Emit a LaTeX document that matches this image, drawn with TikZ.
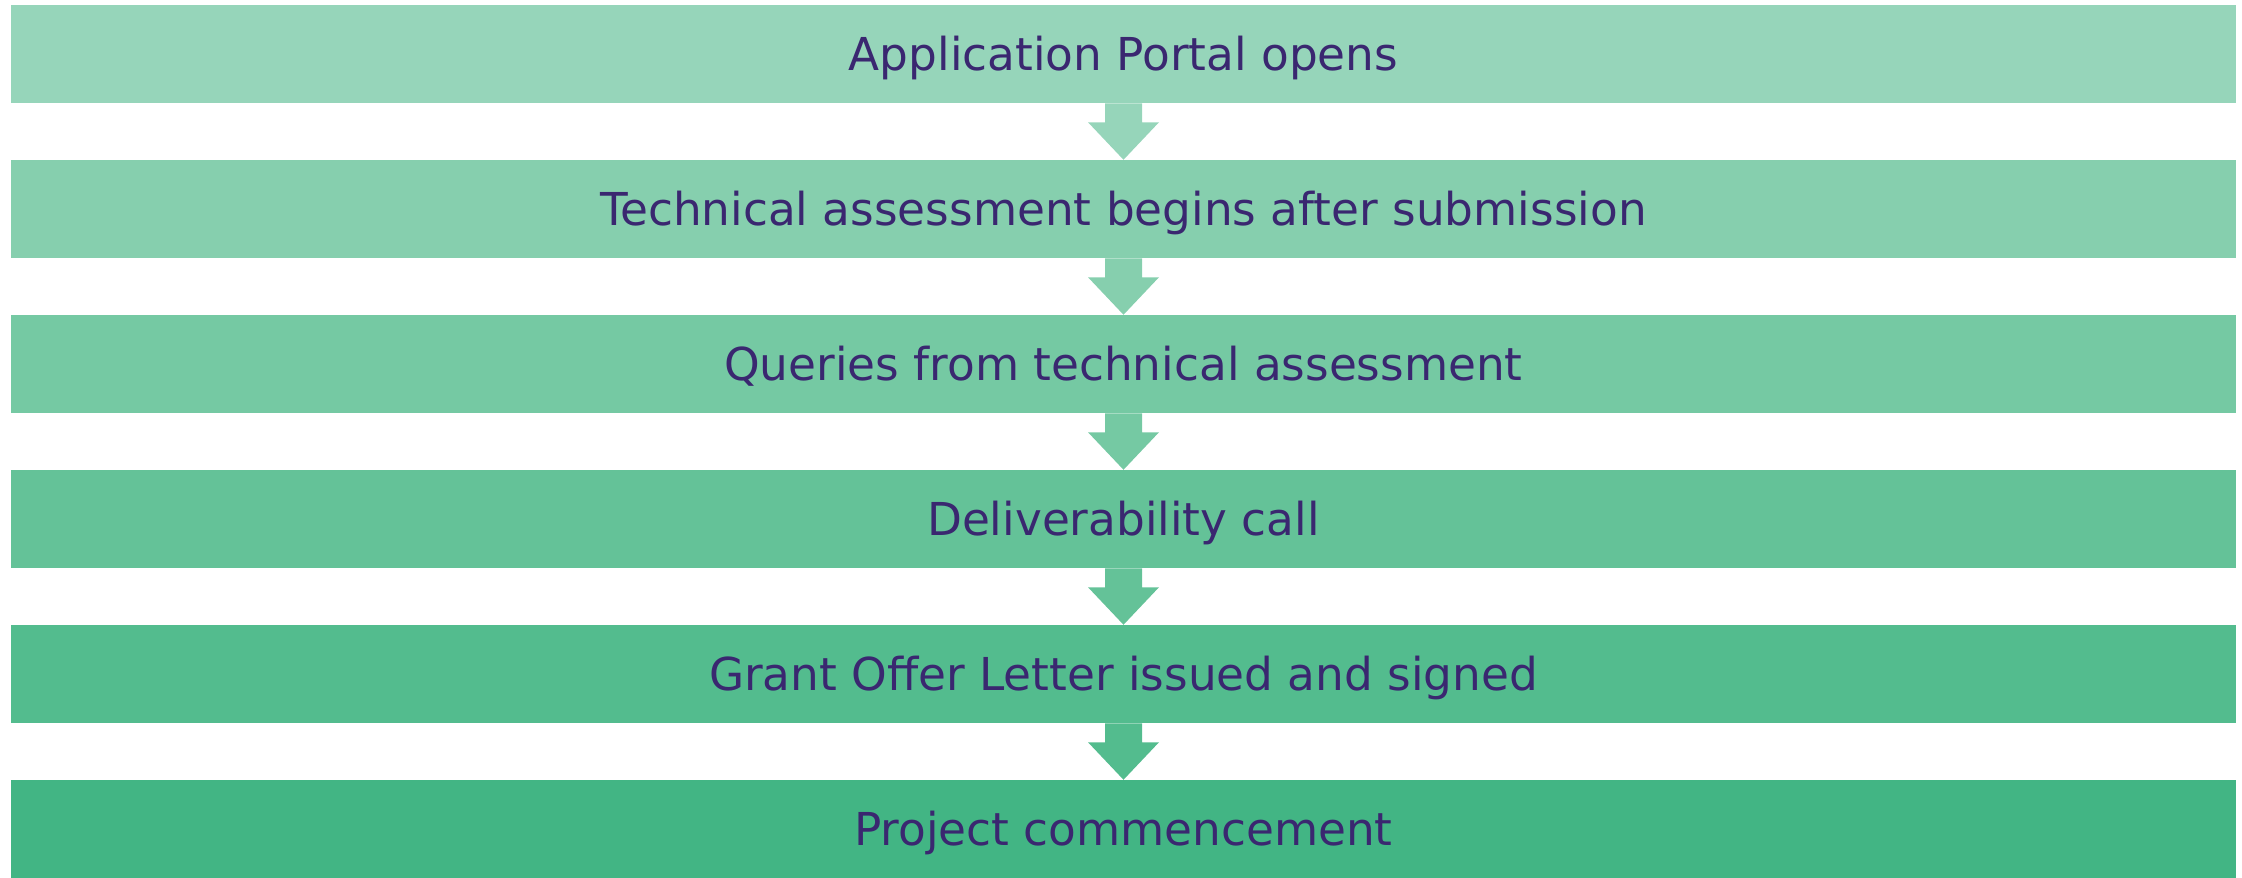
\documentclass[tikz,border=0pt]{standalone}
\usepackage{fontspec}
\setmainfont{DejaVu Sans}
\usepackage{xcolor}
\usepackage{tikz}
\usetikzlibrary{positioning, calc}
\definecolor{stepA}{HTML}{96D5BA}
\definecolor{stepB}{HTML}{86CFAE}
\definecolor{stepC}{HTML}{75C9A3}
\definecolor{stepD}{HTML}{64C298}
\definecolor{stepE}{HTML}{53BC8E}
\definecolor{stepF}{HTML}{42B584}
\definecolor{textpurple}{HTML}{3A2770}
\tikzset{
  stage/.style={minimum width=22.25cm, minimum height=0.985cm, inner sep=0pt,
    outer sep=0pt, text height=0.345cm, text depth=0.025cm,
    text=textpurple, font=\fontsize{12.9}{15}\selectfont},
}
% arrow between two bars, in the colour of the upper one
\newcommand{\flowarrow}[3]{%
  \fill[#3] ($(#1.south)+(-0.185,0)$) -- ($(#1.south)+(0.185,0)$)
    -- ($(#1.south)+(0.185,-0.19)$) -- ($(#1.south)+(0.355,-0.19)$)
    -- (#2.north) -- ($(#1.south)+(-0.355,-0.19)$)
    -- ($(#1.south)+(-0.185,-0.19)$) -- cycle;}

\begin{document}
\begin{tikzpicture}[node distance=0.565cm]
\useasboundingbox (0,0) rectangle (22.42,-8.77);

% ---------------- Stages ----------------
\node[stage, fill=stepA] (portal) at (11.235,-0.54) {Application Portal opens};
\node[stage, fill=stepB, below=of portal] (techassess) {Technical assessment begins after submission};
\node[stage, fill=stepC, below=of techassess] (queries) {Queries from technical assessment};
\node[stage, fill=stepD, below=of queries] (delivcall) {Deliverability call};
\node[stage, fill=stepE, below=of delivcall] (gol) {Grant Offer Letter issued and signed};
\node[stage, fill=stepF, below=of gol] (commence) {Project commencement};

% ---------------- Arrows ----------------
\foreach \a/\b/\c in {portal/techassess/stepA, techassess/queries/stepB,
  queries/delivcall/stepC, delivcall/gol/stepD, gol/commence/stepE}
  {\flowarrow{\a}{\b}{\c}}
\end{tikzpicture}
\end{document}
